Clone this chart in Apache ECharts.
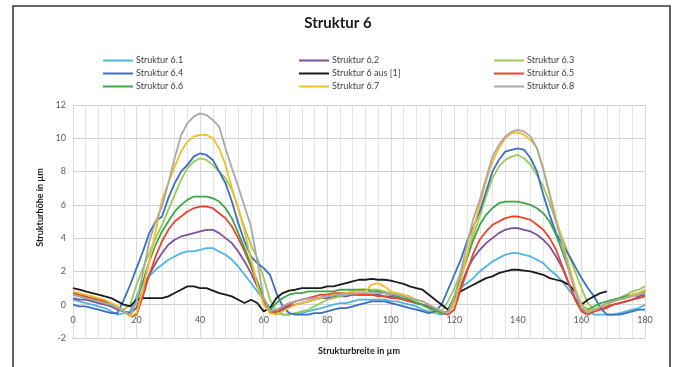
<!DOCTYPE html>
<html>
<head>
<meta charset="utf-8">
<script src="https://cdn.jsdelivr.net/npm/echarts@6/dist/echarts.min.js"></script>
<style>
  html, body { margin: 0; padding: 0; background: #ffffff; }
  #chart { width: 676px; height: 367px; }
</style>
</head>
<body>
<div id="chart"></div>
<script>
// Profile positions along the structure width (µm)
const xs = [
  0, 2, 4, 6, 8, 10, 12, 14, 16, 18, 20, 22, 24, 26, 28, 30, 32, 34, 36, 38,
  40, 42, 44, 46, 48, 50, 52, 54, 56, 58, 60, 62, 64, 66, 68, 70, 72, 74, 76, 78,
  80, 82, 84, 86, 88, 90, 92, 94, 96, 98, 100, 102, 104, 106, 108, 110, 112, 114, 116, 118,
  120, 122, 124, 126, 128, 130, 132, 134, 136, 138, 140, 142, 144, 146, 148, 150, 152, 154, 156, 158,
  160, 162, 164, 166, 168, 170, 172, 174, 176, 178, 180
];

// Measured heights (µm) for each structure variant
const s61 = [
  0.3, 0.2, 0.1, 0.0, -0.1, -0.2, -0.4, -0.6, -0.5, -0.4, 0.5, 1.3, 1.7, 2.1, 2.4, 2.7, 2.9, 3.1, 3.2, 3.2,
  3.3, 3.4, 3.4, 3.2, 3.0, 2.7, 2.3, 1.8, 1.3, 0.8, 0.3, -0.2, -0.5, -0.6, -0.6, -0.5, -0.5, -0.4, -0.3, -0.2,
  -0.1, 0.0, 0.1, 0.1, 0.2, 0.3, 0.3, 0.3, 0.3, 0.3, 0.2, 0.2, 0.1, 0.0, -0.1, -0.3, -0.4, -0.5, -0.6, -0.4,
  0.3, 1.0, 1.3, 1.6, 2.0, 2.3, 2.6, 2.8, 3.0, 3.1, 3.1, 3.0, 2.9, 2.7, 2.5, 2.1, 1.8, 1.4, 0.9, 0.4,
  0.0, -0.3, -0.6, -0.6, -0.6, -0.6, -0.5, -0.4, -0.3, -0.2, 0.0
];
const s62 = [
  0.4, 0.3, 0.3, 0.2, 0.1, 0.0, -0.1, -0.3, -0.4, -0.5, -0.2, 0.9, 1.8, 2.5, 3.1, 3.6, 3.9, 4.1, 4.2, 4.3,
  4.4, 4.5, 4.5, 4.3, 4.0, 3.7, 3.2, 2.6, 1.9, 1.1, 0.3, -0.3, -0.5, -0.3, -0.1, 0.0, 0.1, 0.2, 0.3, 0.4,
  0.4, 0.5, 0.5, 0.5, 0.6, 0.6, 0.6, 0.6, 0.6, 0.5, 0.5, 0.4, 0.3, 0.2, 0.1, 0.0, -0.1, -0.3, -0.4, -0.5,
  0.0, 1.1, 2.1, 2.8, 3.3, 3.7, 4.0, 4.3, 4.5, 4.6, 4.6, 4.5, 4.4, 4.2, 3.9, 3.5, 2.9, 2.2, 1.3, 0.4,
  -0.3, -0.5, -0.4, -0.2, -0.1, 0.0, 0.1, 0.2, 0.3, 0.5, 0.6
];
const s63 = [
  0.7, 0.6, 0.5, 0.4, 0.3, 0.2, 0.0, -0.2, -0.3, 0.0, 1.2, 2.2, 3.1, 4.0, 4.8, 5.7, 6.6, 7.5, 8.2, 8.6,
  8.8, 8.7, 8.4, 8.0, 7.6, 6.9, 5.8, 4.6, 3.6, 2.8, 1.6, 0.3, -0.4, -0.6, -0.6, -0.5, -0.4, -0.3, -0.1, 0.1,
  0.3, 0.4, 0.5, 0.6, 0.8, 0.9, 0.9, 0.9, 0.9, 0.8, 0.7, 0.6, 0.5, 0.3, 0.2, 0.0, -0.2, -0.5, -0.4, 0.2,
  1.0, 1.9, 3.0, 4.2, 5.3, 6.5, 7.6, 8.3, 8.7, 8.9, 9.0, 8.8, 8.4, 7.8, 7.1, 6.1, 5.0, 4.0, 3.0, 2.0,
  1.0, 0.1, -0.3, -0.2, 0.0, 0.2, 0.4, 0.6, 0.8, 0.9, 1.1
];
const s64 = [
  0.0, -0.1, -0.1, -0.2, -0.3, -0.4, -0.5, -0.5, 0.3, 1.2, 2.2, 3.2, 4.3, 5.0, 5.3, 6.4, 7.3, 8.0, 8.4, 8.9,
  9.1, 9.0, 8.7, 8.0, 7.3, 6.2, 4.9, 3.8, 2.9, 2.5, 2.2, 1.8, 0.7, -0.1, -0.5, -0.6, -0.6, -0.6, -0.5, -0.5,
  -0.4, -0.3, -0.2, -0.2, -0.1, 0.0, 0.1, 0.2, 0.2, 0.2, 0.1, 0.0, -0.1, -0.2, -0.3, -0.4, -0.5, -0.4, 0.0, 0.9,
  1.8, 2.7, 3.8, 4.7, 5.6, 6.8, 8.0, 8.7, 9.2, 9.3, 9.4, 9.3, 8.8, 8.0, 6.6, 5.4, 4.3, 3.6, 3.0, 2.3,
  1.6, 1.0, 0.5, -0.2, -0.6, -0.6, -0.6, -0.5, -0.4, -0.3, -0.3
];
const sRef = [
  1.0, 0.9, 0.8, 0.7, 0.6, 0.5, 0.4, 0.2, 0.0, -0.1, 0.3, 0.4, 0.4, 0.4, 0.4, 0.5, 0.7, 0.9, 1.1, 1.1,
  1.0, 1.0, 0.85, 0.7, 0.6, 0.5, 0.3, 0.1, 0.3, 0.1, -0.4, -0.2, 0.4, 0.7, 0.85, 0.9, 1.0, 1.0, 1.0, 1.0,
  1.1, 1.1, 1.2, 1.3, 1.4, 1.5, 1.5, 1.55, 1.5, 1.5, 1.45, 1.35, 1.25, 1.1, 1.0, 0.9, 0.6, 0.3, 0.0, -0.3,
  0.4, 0.8, 1.0, 1.2, 1.4, 1.6, 1.7, 1.9, 2.0, 2.1, 2.1, 2.05, 2.0, 1.9, 1.8, 1.6, 1.5, 1.4, 1.2, 0.8,
  0.0, 0.3, 0.5, 0.7, 0.8
];
const s65 = [
  0.7, 0.6, 0.5, 0.4, 0.3, 0.2, 0.0, -0.2, -0.4, -0.7, -0.6, 0.5, 1.8, 2.9, 3.8, 4.5, 5.0, 5.3, 5.6, 5.8,
  5.9, 5.9, 5.8, 5.5, 5.2, 4.7, 4.0, 3.2, 2.3, 1.3, 0.2, -0.5, -0.4, -0.2, 0.0, 0.2, 0.3, 0.4, 0.5, 0.6,
  0.6, 0.7, 0.7, 0.7, 0.7, 0.6, 0.6, 0.6, 0.5, 0.5, 0.4, 0.4, 0.3, 0.2, 0.1, 0.0, -0.2, -0.3, -0.5, -0.6,
  -0.3, 0.9, 2.0, 3.1, 3.9, 4.4, 4.8, 5.0, 5.2, 5.3, 5.3, 5.2, 5.1, 4.8, 4.5, 4.0, 3.3, 2.3, 1.3, 0.3,
  -0.4, -0.6, -0.4, -0.3, -0.2, 0.0, 0.1, 0.2, 0.3, 0.4, 0.5
];
const s66 = [
  0.6, 0.5, 0.4, 0.3, 0.2, 0.1, 0.0, -0.2, -0.4, -0.6, 0.2, 1.4, 2.6, 3.6, 4.4, 5.0, 5.6, 6.0, 6.3, 6.5,
  6.5, 6.5, 6.4, 6.2, 5.8, 5.2, 4.3, 3.4, 2.4, 1.4, 0.4, -0.3, 0.1, 0.4, 0.6, 0.7, 0.7, 0.8, 0.8, 0.8,
  0.8, 0.8, 0.9, 0.9, 0.9, 0.9, 0.9, 0.8, 0.8, 0.7, 0.6, 0.5, 0.4, 0.3, 0.1, 0.0, -0.2, -0.3, -0.5, -0.4,
  0.5, 1.6, 2.8, 3.9, 4.8, 5.4, 5.8, 6.1, 6.2, 6.2, 6.2, 6.1, 6.0, 5.8, 5.5, 5.0, 4.2, 3.2, 2.1, 0.9,
  -0.2, -0.3, -0.1, 0.1, 0.2, 0.3, 0.4, 0.5, 0.6, 0.7, 0.8
];
const s67 = [
  0.8, 0.7, 0.6, 0.5, 0.4, 0.3, 0.1, -0.1, -0.4, -0.7, -0.5, 0.9, 2.6, 4.4, 6.3, 7.3, 8.3, 9.2, 9.8, 10.1,
  10.2, 10.2, 10.0, 9.4, 8.4, 7.0, 5.8, 4.4, 2.8, 1.2, 0.0, -0.5, -0.6, -0.4, -0.2, 0.0, 0.1, 0.2, 0.3, 0.4,
  0.5, 0.6, 0.6, 0.7, 0.8, 0.8, 0.8, 1.2, 1.3, 1.1, 0.8, 0.7, 0.6, 0.5, 0.3, 0.2, 0.0, -0.2, -0.4, -0.5,
  0.0, 1.4, 3.0, 4.6, 6.0, 7.4, 8.6, 9.4, 10.0, 10.3, 10.35, 10.2, 9.9, 9.4, 8.2, 6.7, 5.2, 3.8, 2.4, 1.0,
  0.0, -0.4, -0.3, -0.1, 0.0, 0.2, 0.3, 0.4, 0.6, 0.7, 0.9
];
const s68 = [
  0.6, 0.5, 0.4, 0.3, 0.2, 0.1, 0.0, -0.2, -0.4, -0.6, 0.2, 1.9, 3.8, 5.0, 5.9, 7.3, 8.8, 10.2, 10.9, 11.3,
  11.5, 11.4, 11.1, 10.7, 9.4, 8.2, 7.1, 5.9, 4.7, 2.6, 0.4, -0.4, -0.3, -0.1, 0.1, 0.2, 0.3, 0.35, 0.4, 0.45,
  0.5, 0.55, 0.6, 0.6, 0.65, 0.7, 0.7, 0.75, 0.7, 0.7, 0.65, 0.6, 0.5, 0.4, 0.3, 0.2, 0.0, -0.2, -0.4, -0.5,
  0.4, 2.0, 3.6, 5.2, 6.3, 7.6, 8.9, 9.6, 10.1, 10.4, 10.5, 10.4, 10.1, 9.4, 8.1, 6.6, 5.0, 3.6, 2.1, 0.8,
  -0.2, -0.5, -0.3, -0.1, 0.1, 0.2, 0.3, 0.4, 0.5, 0.6, 0.7
];

const seriesDefs = [
  { name: 'Struktur 6.1', values: s61, color: '#4fb4e6' },
  { name: 'Struktur 6.2', values: s62, color: '#7e4f9e' },
  { name: 'Struktur 6.3', values: s63, color: '#9cc95a' },
  { name: 'Struktur 6.4', values: s64, color: '#3a6fc0' },
  { name: 'Struktur 6 aus [1]', values: sRef, color: '#1a1a1a' },
  { name: 'Struktur 6.5', values: s65, color: '#e8462c' },
  { name: 'Struktur 6.6', values: s66, color: '#3ba845' },
  { name: 'Struktur 6.7', values: s67, color: '#f4bd2a' },
  { name: 'Struktur 6.8', values: s68, color: '#a8a8a8' }
];

const FONT = 'Lato, "Open Sans", sans-serif';
const chart = echarts.init(document.getElementById('chart'), null, { renderer: 'canvas' });

const legendBase = {
  orient: 'vertical',
  top: 51,
  itemWidth: 30,
  itemHeight: 10,
  itemGap: 4,
  icon: 'path://M0,4 L30,4 L30,6 L0,6 Z',
  textStyle: { fontFamily: FONT, fontSize: 9, color: '#404040', padding: [0, 0, 0, -2] }
};

chart.setOption({
  animation: false,
  backgroundColor: '#ffffff',
  color: seriesDefs.map(d => d.color),
  title: {
    text: 'Struktur 6',
    left: 'center',
    top: 11,
    textStyle: { fontFamily: FONT, fontSize: 15, fontWeight: 'bold', color: '#1a1a1a' }
  },
  legend: [
    Object.assign({}, legendBase, { left: 98, data: ['Struktur 6.1', 'Struktur 6.4', 'Struktur 6.6'] }),
    Object.assign({}, legendBase, { left: 294, data: ['Struktur 6.2', 'Struktur 6 aus [1]', 'Struktur 6.7'] }),
    Object.assign({}, legendBase, { left: 489, data: ['Struktur 6.3', 'Struktur 6.5', 'Struktur 6.8'] })
  ],
  grid: { left: 73, right: 31, top: 105, bottom: 29, containLabel: false, outerBoundsMode: 'none' },
  xAxis: {
    type: 'value',
    min: 0,
    max: 180,
    interval: 20,
    name: 'Strukturbreite in µm',
    nameLocation: 'middle',
    nameGap: 9,
    nameTextStyle: { fontFamily: FONT, fontSize: 9, fontWeight: 'bold', color: '#1a1a1a' },
    axisLine: { onZero: false, lineStyle: { color: '#d0d0d0', width: 1 } },
    axisTick: { show: false },
    // labels sit just under the zero line, inside the plot
    axisLabel: { fontFamily: FONT, fontSize: 9, color: '#595959', margin: -22 },
    splitLine: { show: true, lineStyle: { color: '#d9d9d9', width: 1 } },
    minorTick: { show: false, splitNumber: 5 },
    minorSplitLine: { show: true, lineStyle: { color: '#e3e3e3', width: 1 } }
  },
  yAxis: {
    type: 'value',
    min: -2,
    max: 12,
    interval: 2,
    name: 'Strukturhöhe in µm',
    nameLocation: 'middle',
    nameGap: 28,
    nameTextStyle: { fontFamily: FONT, fontSize: 9, fontWeight: 'bold', color: '#1a1a1a', padding: [0, 0, 0, 28] },
    axisLine: { show: false },
    axisTick: { show: false },
    axisLabel: { fontFamily: FONT, fontSize: 9, color: '#595959', margin: 7 },
    splitLine: { show: true, lineStyle: { color: '#d0d0d0', width: 1 } }
  },
  graphic: [
    {
      type: 'rect',
      shape: { x: 13, y: 6, width: 657, height: 400 },
      style: { fill: 'none', stroke: '#3a3a3a', lineWidth: 1.6 },
      silent: true
    }
  ],
  series: seriesDefs.map(d => ({
    name: d.name,
    type: 'line',
    symbol: 'none',
    smooth: false,
    lineStyle: { color: d.color, width: 1.8 },
    itemStyle: { color: d.color },
    data: d.values.map((v, i) => [xs[i], v])
  }))
});
</script>
</body>
</html>
